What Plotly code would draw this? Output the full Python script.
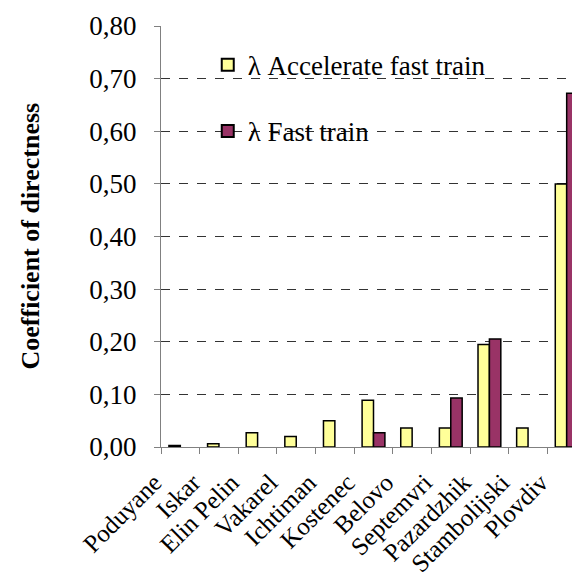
import plotly.graph_objects as go

stations = ["Poduyane", "Iskar", "Elin Pelin", "Vakarel", "Ichtiman", "Kostenec",
            "Belovo", "Septemvri", "Pazardzhik", "Stambolijski", "Plovdiv"]
accel_fast = [0.003, 0.006, 0.027, 0.020, 0.050, 0.089, 0.036, 0.036, 0.195, 0.036, 0.500]
fast = [None, None, None, None, None, 0.027, None, 0.093, 0.205, None, 0.672]
y_ticks = [0.0, 0.1, 0.2, 0.3, 0.4, 0.5, 0.6, 0.7, 0.8]

FONT = "Liberation Serif"

fig = go.Figure()
fig.add_trace(go.Bar(x=stations, y=accel_fast, name="λ Accelerate fast train",
                     marker=dict(color="#FFFF99", line=dict(color="black", width=1.5)),
                     legendgroup="a"))
fig.add_trace(go.Bar(x=stations, y=fast, name="λ Fast train",
                     marker=dict(color="#993366", line=dict(color="black", width=1.5)),
                     legendgroup="b"))

fig.update_layout(
    width=580, height=574,
    margin=dict(l=153, r=2, t=18, b=135),
    paper_bgcolor="white", plot_bgcolor="white",
    font=dict(family=FONT, size=26, color="black"),
    barmode="group", bargap=0.41, bargroupgap=0,
    separators=", ",
    showlegend=True,
    legend=dict(x=0.11, y=0.965, xanchor="left", yanchor="top",
                bgcolor="rgba(0,0,0,0)", font=dict(family=FONT, size=27),
                tracegroupgap=28, itemsizing="constant"),
    xaxis=dict(tickangle=-45, showline=True, linecolor="#808080", linewidth=1,
               ticks="outside", ticklen=6, tickcolor="#808080", tickson="boundaries",
               ticklabelstandoff=10, ticklabelshift=-26, automargin=False,
               showgrid=False, tickfont=dict(family=FONT, size=25)),
    yaxis=dict(range=[0, 0.8], tickvals=y_ticks, tickformat=".2f",
               showline=True, linecolor="#808080", linewidth=1,
               ticks="outside", ticklen=6, tickcolor="#808080",
               ticklabelstandoff=12, automargin=False,
               showgrid=True, gridcolor="#333333", griddash="dash", gridwidth=1,
               zeroline=False, tickfont=dict(family=FONT, size=27)),
    annotations=[dict(text="<b>Coefficient of directness</b>", xref="paper", yref="paper",
                      x=(22 - 153) / 425, y=0.5, xanchor="center", yanchor="middle",
                      textangle=-90, showarrow=False, font=dict(family=FONT, size=26))],
)

fig.write_html("out.html")
